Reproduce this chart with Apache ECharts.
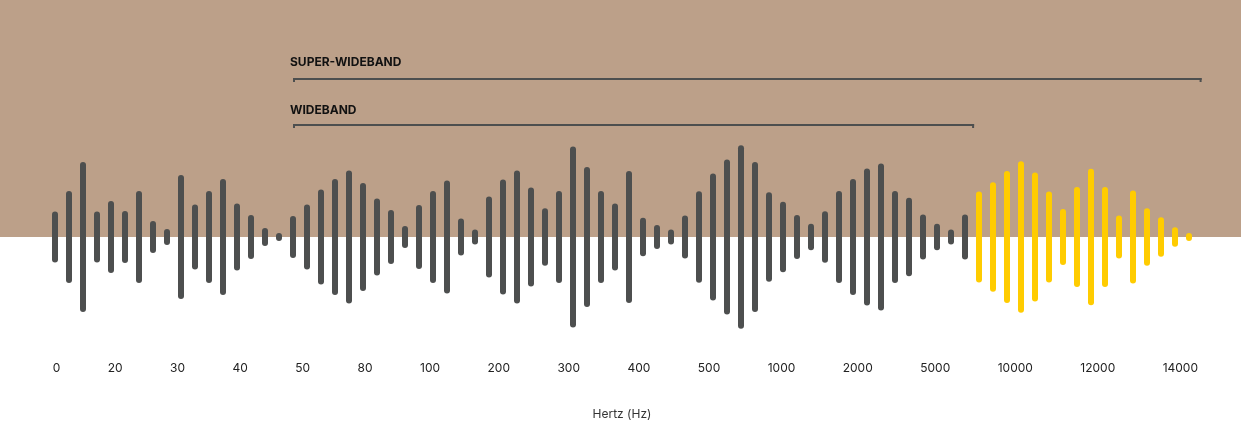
<!DOCTYPE html>
<html>
<head>
<meta charset="utf-8">
<script src="https://cdn.jsdelivr.net/npm/echarts@6/dist/echarts.min.js"></script>
<style>
  html, body { margin: 0; padding: 0; background: #ffffff; }
  #chart { width: 1241px; height: 439px; }
</style>
</head>
<body>
<div id="chart"></div>
<script>
// ---- data ----
// half-amplitude of each bar (symmetric around the zero line)
const narrowbandAmps = [
  25.5, 46, 75, 25.5, 36, 26, 46, 16, 8, 62, 32.5, 46, 58, 33.5, 22, 9, 4,
  21, 32.5, 47.5, 58, 66.5, 54, 38.5, 27, 11, 32, 46, 56.5, 18.5, 7.5, 40.5,
  57.5, 66.5, 49.5, 28.7, 46, 90.5, 70, 46, 33.5, 66, 19.3, 12, 7.5, 21.5,
  45.7, 63.5, 77.5, 91.7, 75, 44.7, 35.3, 22, 13.3, 25.7, 46, 58, 68.5, 73.5,
  46, 39.3, 22.5, 13.3, 7.5, 22.5
];
const superWidebandAmps = [
  45.5, 54.8, 66, 75.8, 64.5, 45.5, 28, 50, 68.3, 50, 21.5, 46.5, 28.8, 19.7, 9.7, 4
];
const tickLabels = ['0', '20', '30', '40', '50', '80', '100', '200', '300', '400', '500',
  '1000', '2000', '5000', '10000', '12000', '14000'];
const bandNames = ['WIDEBAND', 'SUPER-WIDEBAND'];
const bandStart = [17, 17];          // in bar-index units
const bandEnd = [65.65, 81.9];
const axisTitle = 'Hertz (Hz)';

// ---- layout ----
const W = 1241, H = 439;
const gridLeft = 55, gridRight = 52, gridTop = 137, gridBottom = 102;
const gridWidth = W - gridLeft - gridRight;
const nBars = narrowbandAmps.length + superWidebandAmps.length;
const xMax = nBars - 1;
const labelFont = '12px Inter';
const labelRowLeft = 52.7, labelRowRight = 1198;

// distribute tick labels like a "space-between" row
const mctx = document.createElement('canvas').getContext('2d');
mctx.font = labelFont;
const widths = tickLabels.map(t => mctx.measureText(t).width);
const totalW = widths.reduce((a, b) => a + b, 0);
const gap = (labelRowRight - labelRowLeft - totalW) / (tickLabels.length - 1);
const tickValues = [];
let cur = labelRowLeft;
widths.forEach(w => {
  const cx = cur + w / 2;
  tickValues.push((cx - gridLeft) / gridWidth * xMax);
  cur += w + gap;
});
const labelByValue = {};
tickValues.forEach((v, i) => { labelByValue[v.toFixed(6)] = tickLabels[i]; });

const darkData = narrowbandAmps.map((a, i) => [i, a]);
const yellowData = superWidebandAmps.map((a, i) => [narrowbandAmps.length + i, a]);
const bandData = bandNames.map((n, i) => [bandStart[i], bandEnd[i], i]);

function barRenderer(color) {
  return function (params, api) {
    const x = api.value(0), a = api.value(1);
    const top = api.coord([x, a]);
    const bot = api.coord([x, -a]);
    const r = 3;
    return {
      type: 'line',
      shape: { x1: top[0], y1: top[1] + r, x2: bot[0], y2: bot[1] - r },
      style: { stroke: color, lineWidth: 6, lineCap: 'round' }
    };
  };
}

const chart = echarts.init(document.getElementById('chart'), null, { renderer: 'canvas' });
chart.setOption({
  animation: false,
  backgroundColor: '#ffffff',
  grid: { left: gridLeft, right: gridRight, top: gridTop, bottom: gridBottom },
  xAxis: {
    type: 'value', min: 0, max: xMax,
    axisLine: { show: false, onZero: false }, axisTick: { show: false }, splitLine: { show: false },
    axisLabel: {
      customValues: tickValues,
      formatter: v => labelByValue[Number(v).toFixed(6)] || '',
      fontFamily: 'Inter', fontSize: 12, color: '#222', margin: 25
    },
    name: axisTitle, nameLocation: 'middle', nameGap: 71,
    nameTextStyle: { fontFamily: 'Inter', fontSize: 12, color: '#333' }
  },
  yAxis: {
    type: 'value', min: -100, max: 100, show: false
  },
  series: [
    {
      type: 'custom', z: 0, silent: true, clip: false,
      data: [[0, 0]],
      renderItem: (params, api) => {
        const zero = api.coord([0, 0]);
        return {
          type: 'rect',
          shape: { x: 0, y: 0, width: api.getWidth(), height: zero[1] },
          style: { fill: '#BCA089' }
        };
      }
    },
    { type: 'custom', z: 2, clip: false, data: darkData, renderItem: barRenderer('#4D4F4F') },
    { type: 'custom', z: 2, clip: false, data: yellowData, renderItem: barRenderer('#FFCC00') },
    {
      type: 'custom', z: 3, clip: false, data: bandData,
      renderItem: (params, api) => {
        const x1 = api.coord([api.value(0), 0])[0];
        const x2 = api.coord([api.value(1), 0])[0];
        const level = api.value(2);
        const zeroY = api.coord([0, 0])[1];
        const y = zeroY - 112 - level * 46;
        const name = bandNames[params.dataIndex];
        return {
          type: 'group',
          children: [
            { type: 'rect', shape: { x: x1, y: y - 1, width: x2 - x1, height: 2 }, style: { fill: '#4D4F4F' } },
            { type: 'rect', shape: { x: x1, y: y - 1, width: 2, height: 4 }, style: { fill: '#4D4F4F' } },
            { type: 'rect', shape: { x: x2 - 2, y: y - 1, width: 2, height: 4 }, style: { fill: '#4D4F4F' } },
            {
              type: 'text',
              style: {
                x: x1 - 3, y: y - 14.5 - level * 2.5, text: name, fill: '#111111',
                font: 'bold 12px Inter', verticalAlign: 'middle', align: 'left'
              }
            }
          ]
        };
      }
    }
  ]
});
</script>
</body>
</html>
